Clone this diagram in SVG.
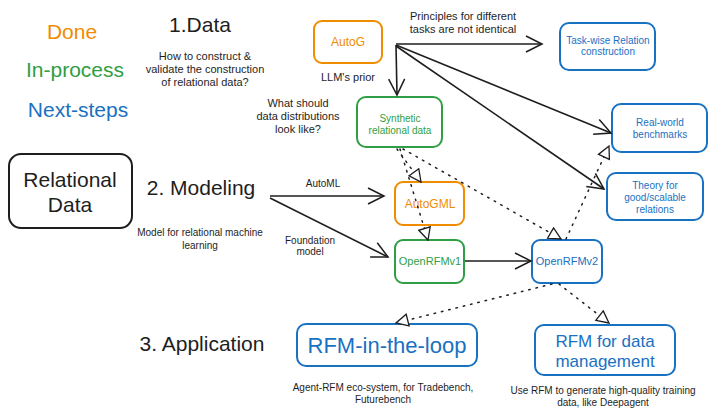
<svg xmlns="http://www.w3.org/2000/svg" width="716" height="418" viewBox="0 0 716 418">
<style>
text{font-family:"Liberation Sans","DejaVu Sans",sans-serif;fill:#1e1e1e;text-anchor:middle}
.o{fill:#f08c00}.g{fill:#2f9e44}.b{fill:#1971c2}
.box{fill:none;stroke-width:2}
.bo{stroke:#f08c00}.bg{stroke:#2f9e44}.bb{stroke:#1971c2}.bk{stroke:#1e1e1e}
.s{font-size:10px}.m{font-size:11px}.h{font-size:21px}.lg{font-size:21px}
.a{fill:none;stroke:#1e1e1e;stroke-width:1.6;marker-end:url(#v)}
.d{fill:none;stroke:#1e1e1e;stroke-width:1.5;stroke-dasharray:1.5 6;stroke-linecap:round;marker-end:url(#t)}
</style>
<defs>
<marker id="v" viewBox="0 0 20 20" refX="18" refY="10" markerWidth="20" markerHeight="20" markerUnits="userSpaceOnUse" orient="auto">
<path d="M2 2 L18 10 L2 18" fill="none" stroke="#1e1e1e" stroke-width="1.5"/>
</marker>
<marker id="t" viewBox="0 0 14 14" refX="13" refY="7" markerWidth="14" markerHeight="14" markerUnits="userSpaceOnUse" orient="auto">
<path d="M1 1 L13 7 L1 13 Z" fill="#fff" stroke="#1e1e1e" stroke-width="1.3"/>
</marker>
</defs>

<g id="legend">
<text class="o lg" x="72" y="39">Done</text>
<text class="g lg" x="75" y="77">In-process</text>
<text class="b lg" x="78" y="117">Next-steps</text>
</g>

<g id="data-title">
<text class="h" x="200" y="32">1.Data</text>
<text class="m" x="205" y="60">How to construct &amp;</text>
<text class="m" x="205" y="73">validate the construction</text>
<text class="m" x="205" y="86">of relational data?</text>
</g>
<g id="dist-question">
<text class="m" x="298" y="107">What should</text>
<text class="m" x="298" y="120">data distributions</text>
<text class="m" x="298" y="133">look like?</text>
</g>

<g id="relational-data">
<rect class="box bk" x="9" y="154" width="123" height="74" rx="12"/>
<text class="h" x="70" y="187">Relational</text>
<text class="h" x="70" y="212">Data</text>
</g>
<g id="modeling-title">
<text class="h" x="201" y="195">2. Modeling</text>
<text class="s" x="200" y="236">Model for relational machine</text>
<text class="s" x="200" y="249">learning</text>
</g>
<g id="application-title">
<text class="h" x="202" y="351">3. Application</text>
</g>

<g id="autog">
<rect class="box bo" x="314" y="21" width="68" height="42" rx="8"/>
<text class="o" x="348" y="46" style="font-size:12px">AutoG</text>
</g>
<g id="task-wise">
<rect class="box bb" x="560" y="23" width="95" height="47" rx="9"/>
<text class="b s" x="608" y="44">Task-wise Relation</text>
<text class="b s" x="608" y="55">construction</text>
</g>
<g id="synthetic">
<rect class="box bg" x="357" y="97" width="85" height="50" rx="9"/>
<text class="g s" x="400" y="122">Synthetic</text>
<text class="g s" x="400" y="134">relational data</text>
</g>
<g id="real-world">
<rect class="box bb" x="612" y="104" width="95" height="48" rx="9"/>
<text class="b s" x="660" y="126">Real-world</text>
<text class="b s" x="660" y="138">benchmarks</text>
</g>
<g id="theory">
<rect class="box bb" x="607" y="173" width="96" height="47" rx="9"/>
<text class="b s" x="655" y="189">Theory for</text>
<text class="b s" x="655" y="201">good/scalable</text>
<text class="b s" x="655" y="213">relations</text>
</g>
<g id="autogml">
<rect class="box bo" x="395" y="182" width="69" height="43" rx="8"/>
<text class="o" x="430" y="208" style="font-size:12px">AutoGML</text>
</g>
<g id="openrfmv1">
<rect class="box bg" x="395" y="240" width="69" height="43" rx="8"/>
<text class="g m" x="430" y="265">OpenRFMv1</text>
</g>
<g id="openrfmv2">
<rect class="box bb" x="532" y="240" width="70" height="43" rx="8"/>
<text class="b m" x="567" y="265">OpenRFMv2</text>
</g>
<g id="rfm-loop">
<rect class="box bb" x="297" y="324" width="180" height="42" rx="9"/>
<text class="b" x="387" y="353" style="font-size:22px">RFM-in-the-loop</text>
<text class="s" x="383" y="391">Agent-RFM eco-system, for Tradebench,</text>
<text class="s" x="383" y="403">Futurebench</text>
</g>
<g id="rfm-data">
<rect class="box bb" x="535" y="325" width="140" height="50" rx="9"/>
<text class="b" x="605" y="347" style="font-size:17px">RFM for data</text>
<text class="b" x="605" y="367" style="font-size:17px">management</text>
<text class="s" x="603" y="394">Use RFM to generate high-quality training</text>
<text class="s" x="603" y="406">data, like Deepagent</text>
</g>

<g id="connectors">
<path class="a" d="M396 44 L542 44"/>
<path class="a" d="M396 45 L397 95"/>
<path class="a" d="M396 45 L611 133"/>
<path class="a" d="M396 46 L604 189"/>
<path class="a" d="M270 196 L384 196"/>
<path class="a" d="M270 198 L388 257"/>
<path class="a" d="M465 261 L531 261"/>
<path class="d" d="M397 149 L421 182"/>
<path class="d" d="M400 149 L428 240"/>
<path class="d" d="M403 149 L561 239"/>
<path class="d" d="M566 239 L609 146"/>
<path class="d" d="M552 284 L396 323"/>
<path class="d" d="M559 284 L609 323"/>
<text class="s" x="323" y="187">AutoML</text>
<text class="s" x="310" y="244">Foundation</text>
<text class="s" x="310" y="255">model</text>
<text class="m" x="348" y="81">LLM's prior</text>
<text class="m" x="463" y="20">Principles for different</text>
<text class="m" x="463" y="33">tasks are not identical</text>
</g>
</svg>
